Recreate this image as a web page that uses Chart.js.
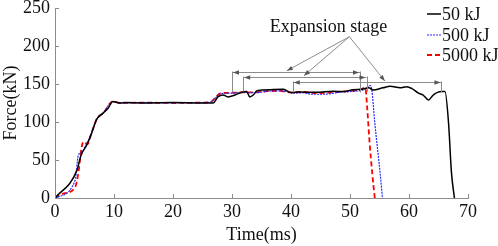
<!DOCTYPE html>
<html><head><meta charset="utf-8">
<script src="https://cdn.jsdelivr.net/npm/chart.js@4.4.0/dist/chart.umd.min.js"></script>
<style>html,body{margin:0;padding:0;background:#fff;}#wrap{width:498px;height:246px;position:relative;}</style>
</head><body><div id="wrap"><canvas id="c"></canvas></div>
<script>
// ---- data ----
const seriesLabels = ['50 kJ', '500 kJ', '5000 kJ'];
const t50 = [0, 3.7, 4.4, 5.4, 6.2, 7.1, 8.2, 9.0, 9.8, 10.4, 11, 12, 15, 20, 25, 26.8, 27.6, 28.5, 29.3, 30.5, 31.4, 32.5, 33.0, 33.6, 34.2, 35, 36.5, 38.7, 40.1, 41.5, 44.3, 47.1, 49, 50.5, 52, 53.2, 53.9, 55.6, 56.8, 58.5, 59.6, 60.5, 61.6, 62.4, 63.3, 64.1, 65.5, 66.1, 66.7, 67.2, 67.7];
const f50 = [0, 36, 56, 70, 85, 104, 112, 118, 127, 126, 125, 125.5, 125, 125.5, 125, 125, 133, 135.5, 133, 135.5, 138.5, 140, 133, 135.5, 141, 142, 142.5, 143, 138.5, 139.5, 139, 140.5, 140, 142.5, 143, 145, 142, 145, 147, 145, 146.5, 144, 138, 135.5, 129, 135.5, 140, 140, 99, 33, 0];
const t500 = [0, 3.4, 3.95, 4.6, 5.4, 6.2, 7.1, 8.2, 9.8, 10.4, 11, 15, 20, 25, 26.3, 28, 30, 32, 34, 36, 38, 39.5, 40.5, 42, 43.5, 45, 46.5, 48, 50, 51.5, 52.5, 53.4, 53.7, 54.2, 55.1, 55.5];
const f500 = [0, 23, 56, 61, 72, 86, 104, 112, 127, 126, 125, 125.5, 125, 125.5, 126, 137, 138, 139, 138.5, 140.5, 141, 140, 138, 138.5, 136.5, 136.5, 137, 139, 140, 141, 143, 148, 142, 99, 33, 0];
const t5000 = [0, 1.5, 3.4, 4.0, 4.5, 4.8, 5.5, 6.2, 7.1, 8.2, 9.8, 10.4, 11, 15, 20, 25, 26.3, 28, 30, 32, 34, 36, 38, 40, 42, 44, 46, 48, 50, 51.5, 52.6, 52.9, 53.3, 53.8, 54.2];
const f5000 = [0, 6, 14, 35, 66, 74, 71, 86, 104, 112, 127, 126, 125, 125.5, 125, 125.5, 126, 137.5, 138.5, 139, 139, 140.5, 141, 139, 139.5, 138, 138.5, 139.5, 141, 142, 145, 120, 75, 30, 0];
const xTicks = [0, 10, 20, 30, 40, 50, 60, 70];
const yTicks = [0, 50, 100, 150, 200, 250];
// annotation
const noteText = 'Expansion stage';
const noteX = 46.35, noteY = 218.8;
const arrowFromX = 49.9, arrowFromY = 212.2;
const arrowToX = [39.3, 42.2, 55.9];
const arrowToY = [167.5, 161, 154];
const dimStart = [30, 31.9, 40.3];
const dimEnd = [51.7, 52.8, 65.5];
const dimLevel = [165.8, 159, 152.5];
const dimFoot = [139, 140, 139];

const FONT = '"Liberation Serif", "Times New Roman", serif';
const GRAY = '#8c8c8c';
const toPts = (ts, fs) => ts.map((t, i) => ({x: t, y: fs[i]}));

function arrowHead(ctx, x, y, ang, len, wid) {
  ctx.save();
  ctx.translate(x, y); ctx.rotate(ang);
  ctx.beginPath(); ctx.moveTo(0, 0); ctx.lineTo(-len, -wid); ctx.lineTo(-len, wid); ctx.closePath();
  ctx.fill(); ctx.restore();
}

const decor = {
  id: 'decor',
  afterDatasetsDraw(chart) {
    const ctx = chart.ctx, xs = chart.scales.x, ys = chart.scales.y, ca = chart.chartArea;
    ctx.save();
    ctx.strokeStyle = GRAY; ctx.lineWidth = 1;
    xTicks.forEach(v => { const px = Math.round(xs.getPixelForValue(v)) + 0.5; ctx.beginPath(); ctx.moveTo(px, ca.bottom); ctx.lineTo(px, ca.bottom - 4); ctx.stroke(); });
    yTicks.forEach(v => { const py = Math.round(ys.getPixelForValue(v)) + 0.5; ctx.beginPath(); ctx.moveTo(ca.left, py); ctx.lineTo(ca.left + 4, py); ctx.stroke(); });
    ctx.strokeStyle = GRAY; ctx.fillStyle = '#555'; ctx.lineWidth = 1;
    for (let i = 0; i < dimStart.length; i++) {
      const x1 = xs.getPixelForValue(dimStart[i]), x2 = xs.getPixelForValue(dimEnd[i]);
      const y = Math.round(ys.getPixelForValue(dimLevel[i])) + 0.5;
      const yf = ys.getPixelForValue(dimFoot[i]);
      ctx.beginPath();
      ctx.moveTo(x1, y); ctx.lineTo(x2, y);
      ctx.moveTo(Math.round(x1) + 0.5, y - 1); ctx.lineTo(Math.round(x1) + 0.5, yf);
      ctx.moveTo(Math.round(x2) + 0.5, y - 1); ctx.lineTo(Math.round(x2) + 0.5, yf);
      ctx.stroke();
      arrowHead(ctx, x1 + 1, y, Math.PI, 6, 2.2);
      arrowHead(ctx, x2 - 1, y, 0, 6, 2.2);
    }
    const fx = xs.getPixelForValue(arrowFromX), fy = ys.getPixelForValue(arrowFromY);
    for (let i = 0; i < arrowToX.length; i++) {
      const tx = xs.getPixelForValue(arrowToX[i]), ty = ys.getPixelForValue(arrowToY[i]);
      ctx.beginPath(); ctx.moveTo(fx, fy); ctx.lineTo(tx, ty); ctx.stroke();
      arrowHead(ctx, tx, ty, Math.atan2(ty - fy, tx - fx), 6, 2.2);
    }
    ctx.fillStyle = '#111'; ctx.font = '18px ' + FONT; ctx.textAlign = 'center'; ctx.textBaseline = 'alphabetic';
    ctx.fillText(noteText, xs.getPixelForValue(noteX), ys.getPixelForValue(noteY));
    const ds = chart.data.datasets;
    const baselines = [20, 41, 61];
    ds.forEach((d, i) => {
      const yb = baselines[i], ym = yb - 6;
      ctx.save();
      ctx.strokeStyle = d.borderColor; ctx.lineWidth = d.borderWidth; ctx.setLineDash(d.borderDash || []);
      ctx.beginPath(); ctx.moveTo(427, ym); ctx.lineTo(441, ym); ctx.stroke();
      ctx.restore();
      ctx.fillStyle = '#111'; ctx.font = '18px ' + FONT; ctx.textAlign = 'left'; ctx.textBaseline = 'alphabetic';
      ctx.fillText(d.label, 442, yb);
    });
    ctx.restore();
  }
};

new Chart(document.getElementById('c'), {
  type: 'line',
  data: {
    datasets: [
      {label: seriesLabels[0], data: toPts(t50, f50), borderColor: '#000000', borderWidth: 1.5, pointRadius: 0, cubicInterpolationMode: 'monotone'},
      {label: seriesLabels[1], data: toPts(t500, f500), borderColor: '#2a2aff', borderWidth: 1.2, borderDash: [2, 1], pointRadius: 0, cubicInterpolationMode: 'monotone'},
      {label: seriesLabels[2], data: toPts(t5000, f5000), borderColor: '#ff0000', borderWidth: 1.8, borderDash: [5, 3], pointRadius: 0, cubicInterpolationMode: 'monotone'}
    ]
  },
  options: {
    responsive: true, maintainAspectRatio: false, animation: false,
    layout: {padding: {top: 8, right: 30, left: 0, bottom: 0}},
    plugins: {legend: {display: false}, tooltip: {enabled: false}},
    scales: {
      x: {
        type: 'linear', min: 0, max: 70,
        afterBuildTicks: s => { s.ticks = xTicks.map(v => ({value: v})); },
        afterFit: s => { s.height = 48; s.paddingLeft = 0; s.paddingRight = 0; },
        grid: {display: true, drawOnChartArea: false, drawTicks: false},
        border: {display: true, color: GRAY, width: 1},
        ticks: {color: '#111', font: {family: FONT, size: 18}, padding: 3, maxRotation: 0},
        title: {display: true, text: 'Time(ms)', color: '#111', font: {family: FONT, size: 18}, padding: {top: 0, bottom: 0}}
      },
      y: {
        min: 0, max: 250,
        afterBuildTicks: s => { s.ticks = yTicks.map(v => ({value: v})); },
        afterFit: s => { s.width = 55; s.paddingTop = 0; s.paddingBottom = 0; },
        grid: {display: true, drawOnChartArea: false, drawTicks: false},
        border: {display: true, color: GRAY, width: 1},
        ticks: {color: '#111', font: {family: FONT, size: 18}, padding: 5},
        title: {display: true, text: 'Force(kN)', color: '#111', font: {family: FONT, size: 18}, padding: {top: 0, bottom: 0}}
      }
    }
  },
  plugins: [decor]
});
</script></body></html>
